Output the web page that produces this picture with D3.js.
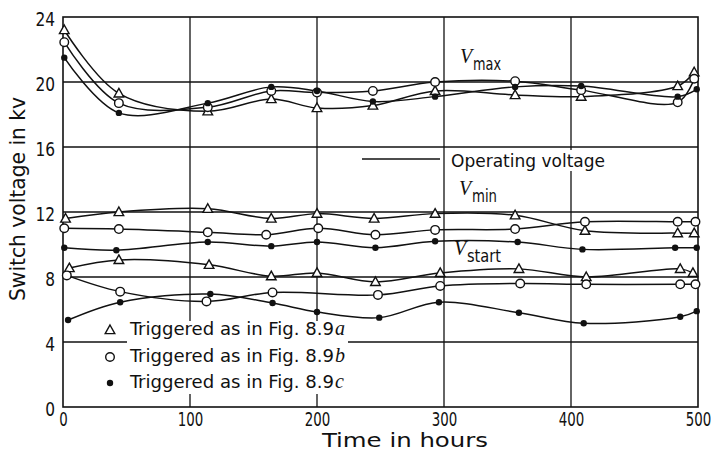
<!DOCTYPE html>
<html><head><meta charset="utf-8">
<script src="https://cdn.jsdelivr.net/npm/d3@7"></script>
<style>
body{margin:0;background:#fff;}
svg{display:block;}
.sans{font-family:"DejaVu Sans Condensed","DejaVu Sans",sans-serif;}
.serif{font-family:"Liberation Serif","DejaVu Serif",serif;font-style:italic;}
</style></head>
<body>
<svg id="c" width="718" height="451"></svg>
<script>
// ---- data ----
const xTicks = [0, 100, 200, 300, 400, 500];
const yTicks = [0, 4, 8, 12, 16, 20, 24];
const legendLabels = ["Triggered as in Fig. 8.9", "Triggered as in Fig. 8.9", "Triggered as in Fig. 8.9"];
const legendSuffix = ["a", "b", "c"];
const markerTypes = ["triangle", "circle", "dot"];

// V_max
const hoursMaxA = [1, 44, 114, 164, 200, 244, 293, 356, 408, 484, 497];
const vmaxA = [23.2, 19.3, 18.2, 18.95, 18.4, 18.55, 19.45, 19.2, 19.1, 19.75, 20.6];
const hoursMaxB = [1, 44, 114, 164, 200, 244, 293, 356, 408, 484, 497];
const vmaxB = [22.45, 18.7, 18.45, 19.45, 19.35, 19.45, 20.0, 20.05, 19.5, 18.75, 20.2];
const hoursMaxC = [1, 44, 114, 164, 200, 244, 293, 356, 408, 484, 499];
const vmaxC = [21.5, 18.1, 18.7, 19.7, 19.45, 18.8, 19.1, 19.7, 19.75, 19.1, 19.55];

// V_min
const hoursMinA = [2, 44, 114, 164, 200, 245, 293, 356, 411, 484, 497];
const vminA = [11.6, 12.0, 12.2, 11.6, 11.9, 11.6, 11.9, 11.8, 10.85, 10.7, 10.7];
const hoursMinB = [1, 44, 114, 160, 201, 246, 293, 356, 411, 484, 498];
const vminB = [11.0, 10.95, 10.75, 10.6, 11.0, 10.6, 10.9, 10.95, 11.4, 11.4, 11.4];
const hoursMinC = [1, 42, 114, 164, 200, 246, 293, 358, 409, 482, 499];
const vminC = [9.8, 9.65, 10.15, 9.9, 10.15, 9.8, 10.2, 10.15, 9.7, 9.8, 9.8];

// V_start
const hoursStartA = [5, 44, 115, 164, 200, 246, 297, 359, 412, 486, 496];
const vstartA = [8.55, 9.05, 8.75, 8.05, 8.25, 7.7, 8.25, 8.5, 8.0, 8.5, 8.25];
const hoursStartB = [3, 45, 113, 165, 248, 297, 360, 412, 486, 498];
const vstartB = [8.1, 7.1, 6.5, 7.05, 6.9, 7.45, 7.6, 7.55, 7.55, 7.55];
const hoursStartC = [4, 45, 116, 165, 200, 249, 296, 359, 410, 486, 499];
const vstartC = [5.35, 6.45, 6.95, 6.4, 5.85, 5.5, 6.45, 5.8, 5.15, 5.55, 5.9];

const curves = [
  {h: hoursMaxA, v: vmaxA, m: "triangle"},
  {h: hoursMaxB, v: vmaxB, m: "circle"},
  {h: hoursMaxC, v: vmaxC, m: "dot"},
  {h: hoursMinA, v: vminA, m: "triangle"},
  {h: hoursMinB, v: vminB, m: "circle"},
  {h: hoursMinC, v: vminC, m: "dot"},
  {h: hoursStartA, v: vstartA, m: "triangle"},
  {h: hoursStartB, v: vstartB, m: "circle"},
  {h: hoursStartC, v: vstartC, m: "dot"}
];

// ---- layout ----
const svg = d3.select("#c");
const L = 63, R = 698, T = 17, B = 407;
const x = d3.scaleLinear().domain([0, 500]).range([L, R]);
const y = d3.scaleLinear().domain([0, 24]).range([B, T]);

// grid
const g = svg.append("g");
g.selectAll(".hg").data(yTicks.filter(d => d > 0 && d < 24)).join("line")
  .attr("x1", L).attr("x2", R).attr("y1", d => y(d)).attr("y2", d => y(d))
  .attr("stroke", "#111").attr("stroke-width", 1.4);
g.selectAll(".vg").data(xTicks.filter(d => d > 0 && d < 500)).join("line")
  .attr("x1", d => x(d)).attr("x2", d => x(d)).attr("y1", T).attr("y2", B)
  .attr("stroke", "#111").attr("stroke-width", 1.3);

// legend background (interrupts grid)
svg.append("rect").attr("x", 127).attr("y", 321).attr("width", 221).attr("height", 73).attr("fill", "#fff");

// frame
svg.append("rect").attr("x", L).attr("y", T).attr("width", R - L).attr("height", B - T)
  .attr("fill", "none").attr("stroke", "#111").attr("stroke-width", 1.6);

// axes labels via d3 axes
const xAxis = svg.append("g").attr("transform", `translate(0,${B})`)
  .call(d3.axisBottom(x).tickValues(xTicks).tickSize(0).tickPadding(5));
xAxis.select(".domain").remove();
xAxis.selectAll("text").attr("class", "sans").attr("font-size", 19.5).attr("fill", "#111").attr("dy", "0.72em")
  .attr("textLength", d => String(d).length * 8.5).attr("lengthAdjust", "spacingAndGlyphs");

const yAxis = svg.append("g").attr("transform", `translate(${L},0)`)
  .call(d3.axisLeft(y).tickValues(yTicks).tickSize(0).tickPadding(8));
yAxis.select(".domain").remove();
yAxis.selectAll("text").attr("class", "sans").attr("font-size", 19.5).attr("fill", "#111").attr("dy", "0.45em")
  .attr("textLength", d => String(d).length * 9.8).attr("lengthAdjust", "spacingAndGlyphs");

svg.append("text").attr("class", "sans").attr("x", 405).attr("y", 447).attr("text-anchor", "middle")
  .attr("font-size", 19.5).attr("fill", "#111").attr("textLength", 166).attr("lengthAdjust", "spacingAndGlyphs")
  .text("Time in hours");
svg.append("text").attr("class", "sans").attr("transform", "translate(25,199) rotate(-90)")
  .attr("text-anchor", "middle").attr("font-size", 20.5).attr("fill", "#111")
  .attr("textLength", 204).attr("lengthAdjust", "spacingAndGlyphs").text("Switch voltage in kv");

// curves
const line = d3.line().x(d => x(d[0])).y(d => y(d[1])).curve(d3.curveCatmullRom.alpha(0.5));
curves.forEach(c => {
  const pts = c.h.map((h, i) => [h, c.v[i]]);
  svg.append("path").attr("d", line(pts)).attr("fill", "none").attr("stroke", "#111").attr("stroke-width", 1.5);
});

function drawMarker(sel, type, cx, cy) {
  if (type === "triangle") {
    sel.append("path").attr("d", `M${cx},${cy - 5}L${cx + 4.8},${cy + 3.6}L${cx - 4.8},${cy + 3.6}Z`)
      .attr("fill", "#fff").attr("stroke", "#111").attr("stroke-width", 1.4);
  } else if (type === "circle") {
    sel.append("circle").attr("cx", cx).attr("cy", cy).attr("r", 4.3)
      .attr("fill", "#fff").attr("stroke", "#111").attr("stroke-width", 1.4);
  } else {
    sel.append("circle").attr("cx", cx).attr("cy", cy).attr("r", 3.2).attr("fill", "#111");
  }
}
const mk = svg.append("g");
curves.forEach(c => {
  c.h.forEach((h, i) => drawMarker(mk, c.m, x(h), y(c.v[i])));
});

// legend
const legY = [335, 362, 388];
legendLabels.forEach((t, i) => {
  drawMarker(svg, markerTypes[i], 110, legY[i] - 5);
  svg.append("text").attr("class", "sans").attr("x", 130).attr("y", legY[i]).attr("font-size", 18.5).attr("fill", "#111")
    .attr("textLength", 204).attr("lengthAdjust", "spacingAndGlyphs").text(t);
  svg.append("text").attr("class", "serif").attr("x", 335).attr("y", legY[i]).attr("font-size", 20).attr("fill", "#111")
    .text(legendSuffix[i]);
});

// operating voltage legend
svg.append("rect").attr("x", 447).attr("y", 150).attr("width", 162).attr("height", 21).attr("fill", "#fff");
svg.append("line").attr("x1", 362).attr("x2", 440).attr("y1", 159).attr("y2", 159).attr("stroke", "#111").attr("stroke-width", 1.5);
svg.append("text").attr("class", "sans").attr("x", 451).attr("y", 167).attr("font-size", 18.5).attr("fill", "#111")
  .attr("textLength", 154).attr("lengthAdjust", "spacingAndGlyphs").text("Operating voltage");

// V labels
function vLabel(xp, yp, sub, w) {
  svg.append("text").attr("class", "serif").attr("x", xp).attr("y", yp).attr("font-size", 20).attr("fill", "#111").text("V");
  svg.append("text").attr("class", "sans").attr("x", xp + 13).attr("y", yp + 7).attr("font-size", 17).attr("fill", "#111")
    .attr("textLength", w).attr("lengthAdjust", "spacingAndGlyphs").text(sub);
}
vLabel(460, 63, "max", 28);
vLabel(459, 195, "min", 25);
vLabel(454, 255, "start", 34);
</script>
</body></html>
